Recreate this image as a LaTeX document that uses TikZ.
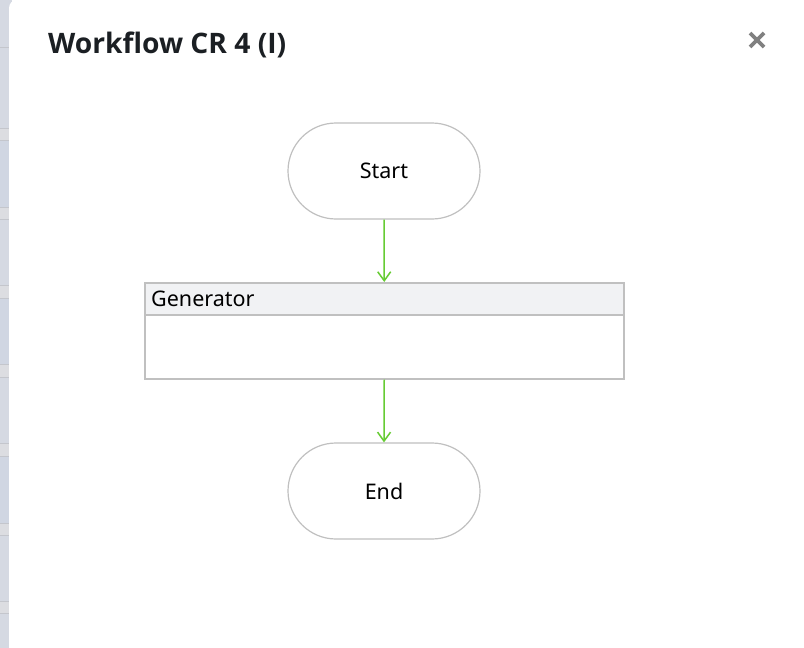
\documentclass[tikz,border=0pt]{standalone}
\usepackage{fontspec}
\setmainfont{Noto Sans}
\newfontfamily\titlefont{Open Sans}
\usetikzlibrary{arrows.meta,calc}
\definecolor{bordergray}{RGB}{192,192,192}
\definecolor{flowgreen}{RGB}{102,204,51}
\definecolor{headfill}{RGB}{241,242,244}
\definecolor{titlecol}{RGB}{27,31,35}
\definecolor{closecol}{RGB}{128,128,128}
\definecolor{stripgray}{RGB}{220,221,225}
\definecolor{stripblue}{RGB}{208,214,226}
\definecolor{stripline}{RGB}{196,198,204}
\tikzset{
  terminal/.style={draw=bordergray, line width=1.2pt, fill=white, rounded corners=48pt,
    minimum width=192pt, minimum height=96pt, inner sep=0pt, font=\fontsize{21.5}{24}\selectfont},
  flow/.style={draw=flowgreen, line width=1.5pt, -{Straight Barb[length=9pt,width=13pt,line width=1.5pt]}},
  boxline/.style={draw=bordergray, line width=1.5pt}
}
\begin{document}
\begin{tikzpicture}[x=1pt,y=-1pt]
\useasboundingbox (0,0) rectangle (804,648);
% background strip on the left
\fill[stripgray] (0,0) rectangle (12,648);
\foreach \a/\b in {0/128,140/207,219/285,298/364,377/443,456/523,535/601,613/648}{
  \fill[stripblue!60!stripgray] (0,\a) rectangle (12,\b);
}
\foreach \a/\b in {140/207,298/364,456/523}{
  \fill[stripblue] (0,\a) rectangle (12,\b);
}
\foreach \y in {47,128,140,207,219,285,298,364,377,443,456,523,535,601,613}{
  \fill[stripline] (0,\y) rectangle (12,\y+1);
}
% dialog
\fill[white, rounded corners=8pt] (9,0) rectangle (820,660);
% title
\node[anchor=base west, inner sep=0pt, text=titlecol, font=\titlefont\fontsize{28.2}{31}\selectfont\bfseries] (title) at (48,53) {Workflow CR 4 (I)};
% close cross
\coordinate (xc) at (757,40);
\draw[closecol, line width=3.6pt] ($(xc)+(-7,-7)$) -- ($(xc)+(7,7)$) ($(xc)+(-7,7)$) -- ($(xc)+(7,-7)$);
% nodes
\node[terminal] (start) at (384,171) {Start};
\node[boxline, fill=headfill, minimum width=479pt, minimum height=32pt, inner sep=0pt, anchor=north west] (genhead) at (144,282) {};
\node[boxline, fill=white, minimum width=479pt, minimum height=64pt, inner sep=0pt, anchor=north west] (genbody) at (144,314) {};
\node[anchor=base west, inner sep=0pt, font=\fontsize{21.5}{24}\selectfont] (genlabel) at (151,306) {Generator};
\node[terminal] (end) at (384,491) {End};
% connectors
\draw[flow] (start.south) -- (genhead.north);
\draw[flow] (genbody.south) -- (end.north);
\end{tikzpicture}
\end{document}
